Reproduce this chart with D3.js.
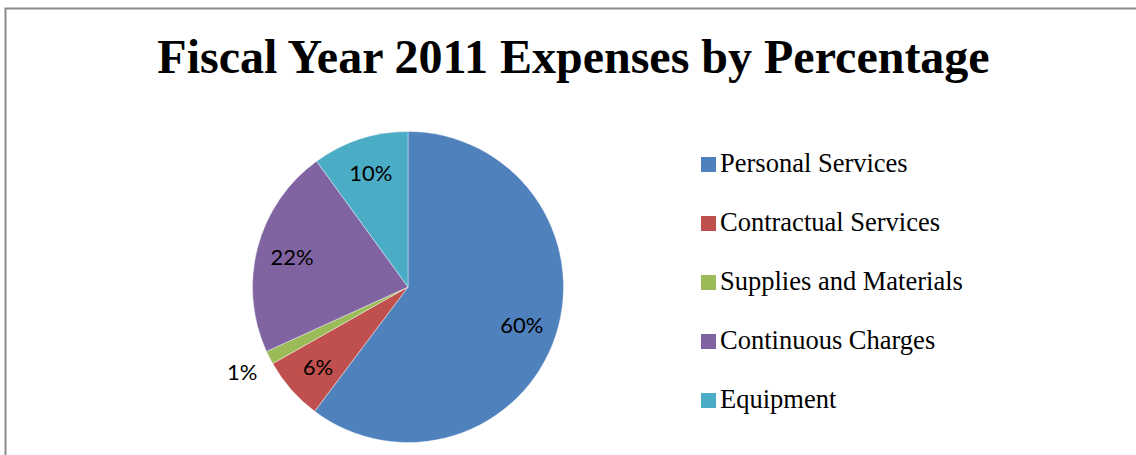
<!DOCTYPE html>
<html>
<head>
<meta charset="utf-8">
<script src="https://cdn.jsdelivr.net/npm/d3@7"></script>
<style>
  body { margin: 0; background: #fff; }
  svg { display: block; }
</style>
</head>
<body>
<div id="graph"></div>
<script>
// dados
var categories = ["Personal Services", "Contractual Services", "Supplies and Materials", "Continuous Charges", "Equipment"];
var values = [60.25, 6.55, 1.4, 21.8, 10.0];
var labels = ["60%", "6%", "1%", "22%", "10%"];
var colors = ["#4F81BD", "#C0504D", "#9BBB59", "#8064A2", "#4BACC6"];

var width = 1136, height = 455;

var svg = d3.select('#graph').append('svg')
    .attr('width', width)
    .attr('height', height);

// moldura do grafico (so esquerda e topo aparecem)
svg.append('rect')
    .attr('x', 5.5).attr('y', 8.5)
    .attr('width', width + 20).attr('height', height + 20)
    .attr('fill', 'none')
    .attr('stroke', '#8a8a8a')
    .attr('stroke-width', 2);

svg.append('text')
    .attr('x', 573.5)
    .attr('y', 73)
    .attr('text-anchor', 'middle')
    .style('font-family', '"Liberation Serif", "Times New Roman", serif')
    .style('font-weight', 'bold')
    .style('font-size', '48px')
    .text('Fiscal Year 2011 Expenses by Percentage');

var cx = 408, cy = 287, radius = 155.5;

var sliceData = categories.map(function (c, i) {
    return {key: c, value: values[i], label: labels[i], color: colors[i]};
});

var pie = d3.pie().sort(null).value(function (d) { return d.value; });
var arc = d3.arc().innerRadius(0).outerRadius(radius);
var labelArc = d3.arc().innerRadius(120).outerRadius(120);
var outerLabelArc = d3.arc().innerRadius(186).outerRadius(186);

var g = svg.append('g').attr('transform', 'translate(' + cx + ',' + cy + ')');

var arcs = pie(sliceData);

g.selectAll('.slice')
    .data(arcs)
    .enter().append('path')
    .classed('slice', true)
    .attr('d', arc)
    .attr('fill', function (d) { return d.data.color; })
    .attr('stroke', '#ffffff')
    .attr('stroke-width', 0.4);

g.selectAll('.lbl')
    .data(arcs)
    .enter().append('text')
    .classed('lbl', true)
    .attr('transform', function (d) {
        // fatia pequena fica com rotulo de fora
        var p = (d.endAngle - d.startAngle) < 0.2 ? outerLabelArc.centroid(d) : labelArc.centroid(d);
        return 'translate(' + p[0] + ',' + p[1] + ')';
    })
    .attr('dy', '0.38em')
    .attr('text-anchor', 'middle')
    .style('font-family', 'Lato, "Open Sans", sans-serif')
    .style('font-size', '22px')
    .attr('fill', '#000')
    .text(function (d) { return d.data.label; });

// legenda
var legend = svg.selectAll('.leg')
    .data(sliceData)
    .enter().append('g')
    .classed('leg', true)
    .attr('transform', function (d, i) { return 'translate(701,' + (172 + i * 59) + ')'; });

legend.append('rect')
    .attr('x', 0).attr('y', -15)
    .attr('width', 15).attr('height', 15)
    .attr('fill', function (d) { return d.color; });

legend.append('text')
    .attr('x', 19)
    .attr('y', 0)
    .style('font-family', '"Liberation Serif", "Times New Roman", serif')
    .style('font-size', '26.5px')
    .text(function (d) { return d.key; });
</script>
</body>
</html>
